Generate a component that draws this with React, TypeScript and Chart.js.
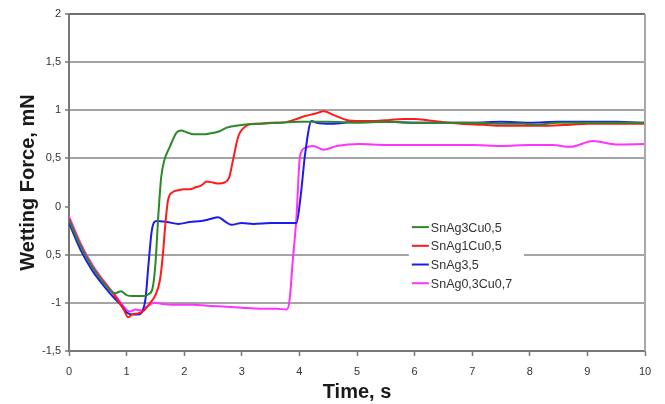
import React, { useEffect, useRef } from "react";
import { Chart, registerables } from "chart.js";

Chart.register(...registerables);

const xTicks = [0, 1, 2, 3, 4, 5, 6, 7, 8, 9, 10];
const yTickLabels: Record<string, string> = {
  "2": "2", "1.5": "1,5", "1": "1", "0.5": "0,5", "0": "0",
  "-0.5": "0,5", "-1": "-1", "-1.5": "-1,5",
};

const seriesNames = ["SnAg3Cu0,5", "SnAg1Cu0,5", "SnAg3,5", "SnAg0,3Cu0,7"];
const seriesColors = ["#2a8a2a", "#ff1a1a", "#1c1cf0", "#ff33ff"];

const greenT = [0, 0.2, 0.4, 0.6, 0.8, 0.9, 1.0, 1.1, 1.2, 1.3, 1.38, 1.45, 1.5, 1.55, 1.6, 1.65, 1.75, 1.87, 1.95, 2.05, 2.16, 2.3, 2.45, 2.6, 2.74, 2.9, 3.03, 3.3, 3.6, 4.0, 4.5, 5.0, 5.5, 6.0, 6.5, 7.0, 7.5, 7.9, 8.1, 8.5, 9, 9.5, 10];
const greenF = [-0.14, -0.41, -0.62, -0.79, -0.9, -0.88, -0.92, -0.93, -0.93, -0.93, -0.91, -0.85, -0.6, -0.1, 0.3, 0.47, 0.62, 0.77, 0.79, 0.77, 0.75, 0.75, 0.76, 0.78, 0.82, 0.84, 0.85, 0.86, 0.87, 0.88, 0.88, 0.87, 0.88, 0.87, 0.87, 0.87, 0.86, 0.86, 0.85, 0.87, 0.87, 0.87, 0.87];

const redT = [0, 0.2, 0.4, 0.6, 0.8, 0.95, 1.03, 1.1, 1.2, 1.3, 1.41, 1.5, 1.58, 1.63, 1.67, 1.72, 1.8, 1.9, 2.0, 2.1, 2.2, 2.3, 2.39, 2.5, 2.6, 2.7, 2.78, 2.85, 2.94, 3.08, 3.2, 3.32, 3.5, 3.7, 3.9, 4.1, 4.3, 4.42, 4.6, 4.82, 5.05, 5.3, 5.57, 5.8, 6.0, 6.2, 6.45, 6.8, 7.2, 7.5, 7.9, 8.3, 8.7, 9.0, 9.5, 10];
const redF = [-0.13, -0.4, -0.62, -0.78, -0.93, -1.07, -1.15, -1.12, -1.11, -1.08, -1.0, -0.92, -0.76, -0.5, -0.2, 0.07, 0.15, 0.17, 0.18, 0.18, 0.2, 0.22, 0.26, 0.25, 0.24, 0.25, 0.3, 0.49, 0.73, 0.84, 0.86, 0.86, 0.87, 0.87, 0.9, 0.94, 0.97, 0.99, 0.95, 0.9, 0.89, 0.89, 0.9, 0.91, 0.91, 0.9, 0.88, 0.86, 0.85, 0.84, 0.84, 0.84, 0.85, 0.86, 0.86, 0.86];

const blueT = [0, 0.2, 0.4, 0.6, 0.8, 0.9, 1.0, 1.1, 1.2, 1.28, 1.33, 1.38, 1.44, 1.52, 1.7, 1.9, 2.1, 2.3, 2.45, 2.59, 2.72, 2.82, 3.0, 3.2, 3.5, 3.8, 3.95, 4.02, 4.1, 4.21, 4.3, 4.55, 5, 5.5, 6, 6.5, 7, 7.5, 8, 8.5, 9, 9.5, 10];
const blueF = [-0.17, -0.45, -0.66, -0.82, -0.96, -1.02, -1.1, -1.12, -1.12, -1.08, -0.95, -0.6, -0.24, -0.15, -0.16, -0.18, -0.16, -0.15, -0.13, -0.11, -0.16, -0.19, -0.17, -0.18, -0.17, -0.17, -0.17, 0.1, 0.55, 0.89, 0.87, 0.86, 0.88, 0.88, 0.87, 0.87, 0.87, 0.88, 0.87, 0.88, 0.88, 0.88, 0.87];

const magentaT = [0, 0.2, 0.4, 0.6, 0.8, 0.95, 1.05, 1.15, 1.25, 1.35, 1.49, 1.6, 1.8, 2.0, 2.16, 2.4, 2.74, 3.0, 3.32, 3.6, 3.78, 3.83, 3.88, 3.95, 4.01, 4.1, 4.24, 4.42, 4.65, 5.05, 5.5, 6.0, 6.5, 7.0, 7.5, 8.0, 8.4, 8.7, 9.1, 9.5, 10];
const magentaF = [-0.1, -0.38, -0.6, -0.77, -0.92, -1.04, -1.09, -1.07, -1.08, -1.04, -1.0, -1.01, -1.02, -1.02, -1.02, -1.03, -1.04, -1.05, -1.06, -1.06, -1.07, -0.97, -0.6, -0.1, 0.52, 0.61, 0.63, 0.59, 0.63, 0.65, 0.64, 0.64, 0.64, 0.64, 0.63, 0.64, 0.64, 0.62, 0.68, 0.645, 0.65];

const seriesT = [greenT, redT, blueT, magentaT];
const seriesF = [greenF, redF, blueF, magentaF];

const FONT = "Arial, 'Liberation Sans', sans-serif";

const legendPlugin = {
  id: "innerLegend",
  afterDatasetsDraw(chart: any) {
    const ctx = chart.ctx;
    const xs = chart.scales.x;
    const ys = chart.scales.y;
    const left = xs.getPixelForValue(5.9);
    const right = xs.getPixelForValue(7.9);
    const top = ys.getPixelForValue(-0.12);
    const bottom = ys.getPixelForValue(-0.92);
    ctx.save();
    ctx.fillStyle = "#ffffff";
    ctx.fillRect(left, top, right - left, bottom - top);
    ctx.font = "12.5px " + FONT;
    ctx.textBaseline = "middle";
    ctx.textAlign = "left";
    chart.data.datasets.forEach((ds: any, i: number) => {
      const y = top + 9 + i * 18.7;
      ctx.strokeStyle = ds.borderColor;
      ctx.lineWidth = 2;
      ctx.beginPath();
      ctx.moveTo(left + 3, y);
      ctx.lineTo(left + 20, y);
      ctx.stroke();
      ctx.fillStyle = "#333333";
      ctx.fillText(ds.label, left + 22, y + 1);
    });
    ctx.restore();
  },
  afterDraw(chart: any) {
    const { ctx, chartArea } = chart;
    ctx.save();
    ctx.strokeStyle = "#a8a8a8";
    ctx.lineWidth = 2;
    ctx.beginPath();
    ctx.moveTo(chartArea.right, chartArea.top);
    ctx.lineTo(chartArea.right, chartArea.bottom);
    ctx.stroke();
    ctx.restore();
  },
};

export default function App() {
  const ref = useRef<HTMLCanvasElement | null>(null);
  useEffect(() => {
    if (!ref.current) return;
    const datasets = seriesNames.map((name, i) => ({
      label: name,
      data: seriesT[i].map((t, j) => ({ x: t, y: seriesF[i][j] })),
      borderColor: seriesColors[i],
      backgroundColor: seriesColors[i],
      borderWidth: 2,
      pointRadius: 0,
      cubicInterpolationMode: "monotone" as const,
      fill: false,
    }));
    const chart = new Chart(ref.current, {
      type: "line",
      data: { datasets },
      plugins: [legendPlugin],
      options: {
        animation: false,
        responsive: false,
        maintainAspectRatio: false,
        layout: { padding: { left: 0, top: 14, right: 20, bottom: 0 } },
        plugins: { legend: { display: false }, tooltip: { enabled: false } },
        scales: {
          x: {
            type: "linear",
            min: 0,
            max: 10,
            afterFit: (s: any) => { s.height = 53; },
            afterBuildTicks: (s: any) => { s.ticks = xTicks.map((v) => ({ value: v })); },
            grid: { drawOnChartArea: false, drawTicks: true, tickLength: 5, tickColor: "#777777", tickWidth: 1.5 },
            border: { color: "#777777", width: 2 },
            ticks: {
              padding: 9,
              color: "#333333",
              font: { family: FONT, size: 11 },
              maxRotation: 0,
              callback: (v: any) => String(v),
            },
            title: {
              display: true,
              text: "Time, s",
              color: "#1a1a1a",
              font: { family: FONT, size: 20, weight: "bold" },
              padding: { top: 0, bottom: 0 },
            },
          },
          y: {
            type: "linear",
            min: -1.5,
            max: 2,
            afterFit: (s: any) => { s.width = 69; },
            ticks: {
              stepSize: 0.5,
              padding: 4,
              color: "#333333",
              font: { family: FONT, size: 11 },
              callback: (v: any) => yTickLabels[String(v)] ?? String(v),
            },
            grid: {
              color: (c: any) => {
                const v = c.tick ? c.tick.value : null;
                if (v === 0) return "rgba(0,0,0,0)";
                if (v === 2) return "#6e6e6e";
                return "#a4a4a4";
              },
              lineWidth: 2,
              drawTicks: true,
              tickLength: 4,
              tickColor: "#777777",
              tickWidth: 1.5,
            },
            border: { color: "#777777", width: 2 },
            title: {
              display: true,
              text: "Wetting Force, mN",
              color: "#1a1a1a",
              font: { family: FONT, size: 20, weight: "bold" },
              padding: { top: 16, bottom: 0 },
            },
          },
        },
      },
    } as any);
    return () => chart.destroy();
  }, []);
  return (
    <div style={{ position: "fixed", left: 0, top: 0, width: 665, height: 404, background: "#ffffff" }}>
      <canvas ref={ref} width={665} height={404} style={{ width: 665, height: 404, display: "block" }} />
    </div>
  );
}
